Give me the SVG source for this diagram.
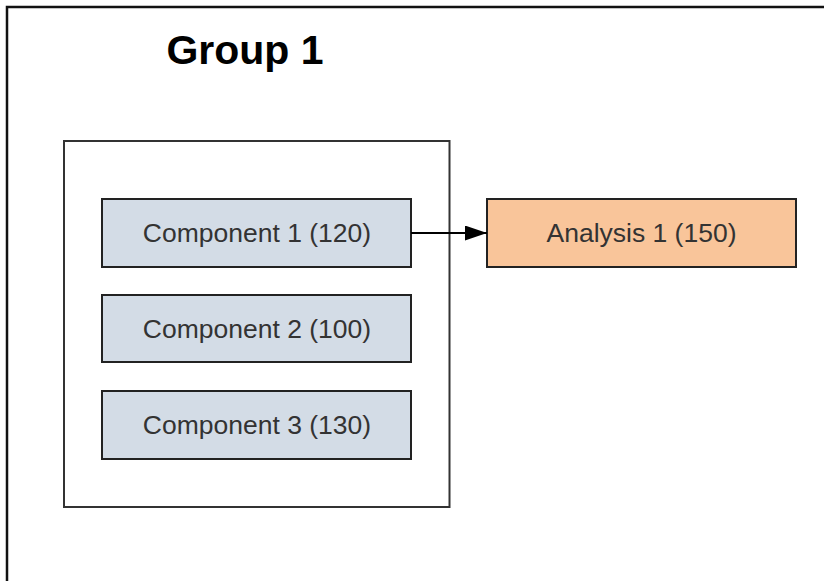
<svg xmlns="http://www.w3.org/2000/svg" width="824" height="581" viewBox="0 0 824 581">
<defs>
<style>
.frame{fill:#ffffff;stroke:#111111;stroke-width:2.5}
.grp{fill:#ffffff;stroke:#333333;stroke-width:2}
.comp{fill:#d3dce6;stroke:#222222;stroke-width:2}
.ana{fill:#f9c59a;stroke:#222222;stroke-width:2}
.lbl{font-family:"Liberation Sans",Arial,sans-serif;font-size:26.5px;fill:#333333;text-anchor:middle}
.title{font-family:"Liberation Sans",Arial,sans-serif;font-size:41px;font-weight:bold;fill:#000000;text-anchor:middle}
.edge{stroke:#000000;stroke-width:2;fill:none}
</style>
<marker id="arrow" markerWidth="22" markerHeight="15" refX="22" refY="7.5" orient="auto" markerUnits="userSpaceOnUse">
<polygon points="0,0 22,7.5 0,15" fill="#000000"/>
</marker>
</defs>
<rect x="0" y="0" width="824" height="581" fill="#ffffff"/>
<rect class="frame" x="7" y="7" width="900" height="700"/>
<g id="group1">
<rect class="grp" x="64" y="141" width="385.5" height="366"/>
<text class="title" x="245" y="64">Group 1</text>
</g>
<g id="component1">
<rect class="comp" x="102" y="199" width="309" height="68"/>
<text class="lbl" x="257" y="242">Component 1 (120)</text>
</g>
<g id="component2">
<rect class="comp" x="102" y="295" width="309" height="67"/>
<text class="lbl" x="257" y="338">Component 2 (100)</text>
</g>
<g id="component3">
<rect class="comp" x="102" y="391" width="309" height="68"/>
<text class="lbl" x="257" y="434">Component 3 (130)</text>
</g>
<g id="analysis1">
<rect class="ana" x="487" y="199" width="309" height="68"/>
<text class="lbl" x="641.5" y="242">Analysis 1 (150)</text>
</g>
<g id="connectors">
<line class="edge" x1="411" y1="233" x2="487" y2="233" marker-end="url(#arrow)"/>
</g>
</svg>
